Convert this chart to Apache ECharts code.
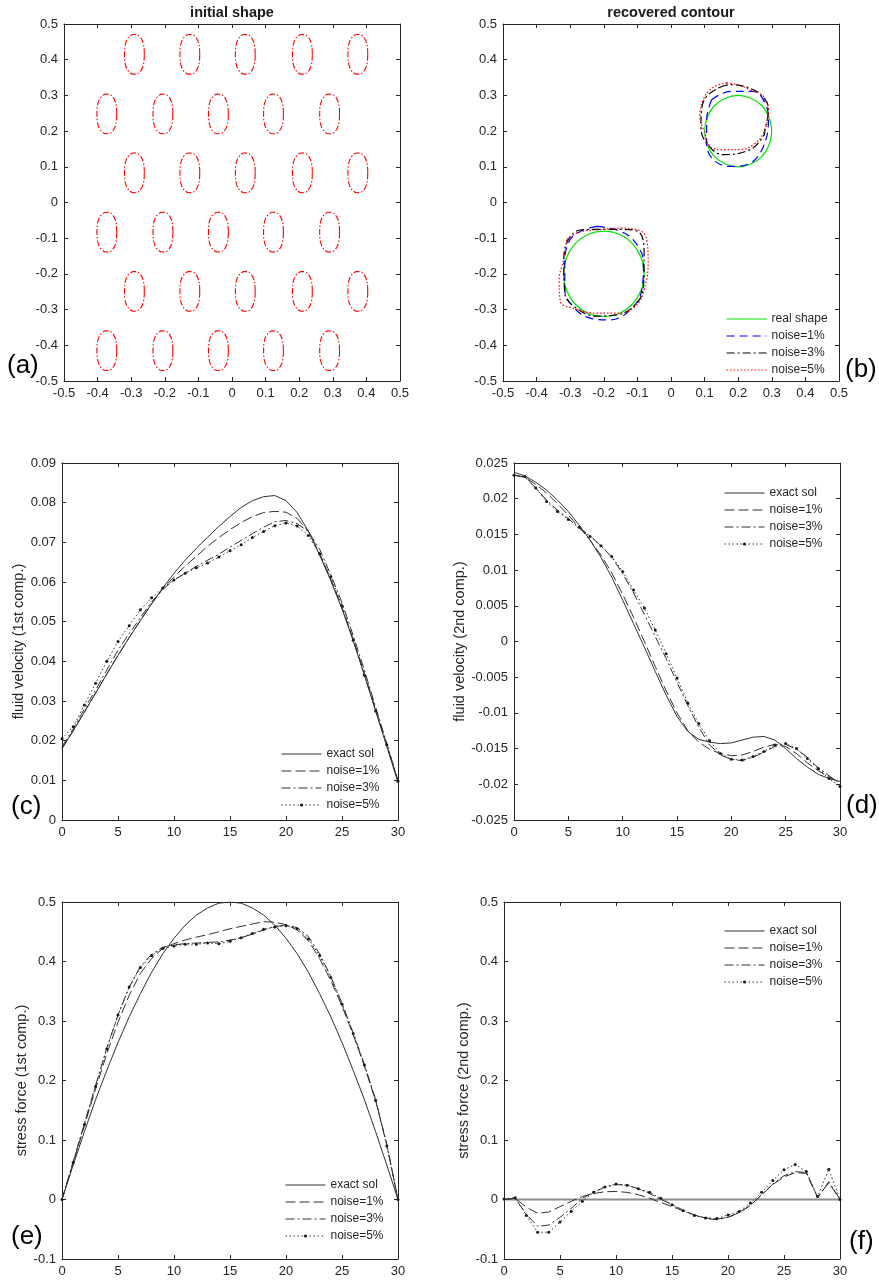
<!DOCTYPE html>
<html><head><meta charset="utf-8">
<script src="https://cdn.jsdelivr.net/npm/echarts@6/dist/echarts.min.js"></script>
<style>
html,body{margin:0;padding:0;background:#fff;width:879px;height:1282px;overflow:hidden;}
.p{position:absolute;left:0;top:0;width:879px;height:1282px;}
</style></head><body>
<div id="pa" class="p"></div><div id="pb" class="p"></div><div id="pc" class="p"></div>
<div id="pd" class="p"></div><div id="pe" class="p"></div><div id="pf" class="p"></div>
<script>
// ================= DATA =================
// (a) initial shapes: row centres, column centres (alternating rows), common outline offsets
const aRowY = [0.415, 0.248, 0.083, -0.083, -0.249, -0.415];
const aColsOdd = [-0.29, -0.125, 0.04, 0.21, 0.375];
const aColsEven = [-0.372, -0.205, -0.04, 0.124, 0.291];
const aOutline = [[0.029,0],[0.028,0.02],[0.024,0.036],[0.017,0.048],[0.007,0.055],[-0.004,0.0555],[-0.015,0.05],[-0.024,0.038],[-0.029,0.02],[-0.030,0],[-0.029,-0.02],[-0.024,-0.038],[-0.015,-0.05],[-0.004,-0.0555],[0.007,-0.055],[0.017,-0.048],[0.024,-0.036],[0.028,-0.02],[0.029,0]];

// (b) recovered contours
const bRealUpper = [[0.3,0.2],[0.292,0.238],[0.271,0.271],[0.238,0.292],[0.2,0.3],[0.162,0.292],[0.129,0.271],[0.108,0.238],[0.1,0.2],[0.108,0.162],[0.129,0.129],[0.162,0.108],[0.2,0.1],[0.238,0.108],[0.271,0.129],[0.292,0.162],[0.3,0.2]];
const bRealLower = [[-0.08,-0.2],[-0.089,-0.154],[-0.115,-0.115],[-0.154,-0.089],[-0.2,-0.08],[-0.246,-0.089],[-0.285,-0.115],[-0.311,-0.154],[-0.32,-0.2],[-0.311,-0.246],[-0.285,-0.285],[-0.246,-0.311],[-0.2,-0.32],[-0.154,-0.311],[-0.115,-0.285],[-0.089,-0.246],[-0.08,-0.2]];
const bN1Upper = [[0.121,0.288],[0.176,0.311],[0.245,0.311],[0.280,0.279],[0.290,0.232],[0.275,0.157],[0.235,0.110],[0.176,0.101],[0.126,0.120],[0.106,0.166],[0.106,0.232],[0.121,0.288]];
const bN1Lower = [[-0.221,-0.067],[-0.261,-0.077],[-0.301,-0.105],[-0.316,-0.170],[-0.316,-0.245],[-0.291,-0.292],[-0.241,-0.324],[-0.182,-0.329],[-0.122,-0.301],[-0.087,-0.245],[-0.082,-0.170],[-0.112,-0.105],[-0.162,-0.077],[-0.221,-0.067]];
const bN3Upper = [[0.146,0.323],[0.176,0.330],[0.245,0.316],[0.280,0.288],[0.290,0.260],[0.280,0.204],[0.275,0.185],[0.235,0.148],[0.156,0.134],[0.106,0.166],[0.089,0.213],[0.091,0.260],[0.106,0.297],[0.146,0.323]];
const bN3Lower = [[-0.212,-0.075],[-0.271,-0.077],[-0.306,-0.105],[-0.319,-0.161],[-0.316,-0.254],[-0.281,-0.296],[-0.221,-0.318],[-0.162,-0.315],[-0.107,-0.287],[-0.082,-0.236],[-0.080,-0.151],[-0.092,-0.086],[-0.152,-0.075],[-0.212,-0.075]];
const bN5Upper = [[0.166,0.335],[0.126,0.323],[0.096,0.288],[0.086,0.241],[0.101,0.194],[0.116,0.157],[0.156,0.148],[0.206,0.148],[0.245,0.162],[0.275,0.194],[0.290,0.260],[0.275,0.297],[0.235,0.316],[0.196,0.330],[0.166,0.335]];
const bN5Lower = [[-0.311,-0.105],[-0.320,-0.161],[-0.333,-0.217],[-0.329,-0.278],[-0.291,-0.296],[-0.221,-0.310],[-0.152,-0.310],[-0.102,-0.287],[-0.080,-0.245],[-0.068,-0.170],[-0.072,-0.105],[-0.097,-0.077],[-0.152,-0.072],[-0.221,-0.077],[-0.271,-0.082],[-0.311,-0.105]];

// (c)-(f) sample positions
const steps = [0,1,2,3,4,5,6,7,8,9,10,11,12,13,14,15,16,17,18,19,20,21,22,23,24,25,26,27,28,29,30];
const seriesNames = ['exact sol','noise=1%','noise=3%','noise=5%'];

// (c) fluid velocity, 1st comp.
const cExact = [0.018,0.0225,0.0272,0.032,0.0368,0.0415,0.046,0.0503,0.0545,0.0585,0.0622,0.0655,0.0685,0.0713,0.074,0.0765,0.0788,0.0805,0.0815,0.0818,0.0805,0.0775,0.0728,0.0668,0.0603,0.0532,0.0452,0.0365,0.0275,0.0185,0.0095];
const cN1 = [0.018,0.0225,0.0272,0.032,0.0368,0.0415,0.046,0.0503,0.0545,0.0583,0.0613,0.064,0.0665,0.069,0.0712,0.0732,0.075,0.0765,0.0775,0.0778,0.0776,0.076,0.0728,0.0672,0.0607,0.0536,0.0456,0.037,0.028,0.019,0.0098];
const cN3 = [0.0185,0.023,0.028,0.0328,0.0378,0.0428,0.047,0.051,0.055,0.0582,0.0605,0.0622,0.064,0.0655,0.067,0.0688,0.0705,0.0722,0.0738,0.0752,0.0755,0.0747,0.0727,0.0683,0.0618,0.0548,0.0465,0.0378,0.0285,0.0193,0.01];
const cN5 = [0.0205,0.0235,0.029,0.0345,0.040,0.045,0.049,0.053,0.056,0.0585,0.0605,0.0622,0.0636,0.0648,0.0663,0.0679,0.0694,0.0712,0.0727,0.0742,0.0749,0.0741,0.0717,0.0671,0.0613,0.054,0.0453,0.0365,0.0275,0.019,0.0098];

// (d) fluid velocity, 2nd comp.
const dExact = [0.0237,0.0232,0.0223,0.0212,0.0198,0.0182,0.0163,0.0142,0.0118,0.009,0.0058,0.0025,-0.0008,-0.0042,-0.0075,-0.0105,-0.0126,-0.0137,-0.0141,-0.0143,-0.0142,-0.0138,-0.0134,-0.0133,-0.0138,-0.015,-0.0164,-0.0176,-0.0186,-0.0192,-0.0196];
const dN1 = [0.0233,0.023,0.022,0.0208,0.0193,0.0177,0.016,0.0142,0.0121,0.0096,0.0066,0.0034,0.0,-0.0035,-0.0069,-0.01,-0.0125,-0.0141,-0.0151,-0.0157,-0.016,-0.0159,-0.0154,-0.0148,-0.0144,-0.0147,-0.0157,-0.017,-0.0181,-0.019,-0.0197];
const dN3 = [0.0233,0.023,0.0215,0.0198,0.0184,0.0172,0.0159,0.0148,0.0134,0.0118,0.0095,0.0068,0.0038,0.0007,-0.0024,-0.0057,-0.009,-0.012,-0.0145,-0.0159,-0.0165,-0.0167,-0.0162,-0.0155,-0.0147,-0.0144,-0.0151,-0.0162,-0.0177,-0.0188,-0.0199];
const dN5 = [0.0233,0.0231,0.0215,0.0196,0.0182,0.0171,0.016,0.0147,0.0134,0.0119,0.0098,0.0072,0.0047,0.0016,-0.0017,-0.0051,-0.0086,-0.0115,-0.0139,-0.0157,-0.0165,-0.0166,-0.0161,-0.0154,-0.0145,-0.0143,-0.015,-0.0164,-0.0178,-0.0192,-0.0203];

// (e) stress force, 1st comp.
const eExact = [0,0.058,0.114,0.168,0.217,0.264,0.307,0.346,0.382,0.413,0.439,0.461,0.478,0.49,0.498,0.5,0.498,0.49,0.478,0.461,0.439,0.413,0.382,0.346,0.307,0.264,0.217,0.168,0.114,0.058,0];
const eN1 = [0,0.062,0.124,0.186,0.245,0.298,0.343,0.38,0.405,0.422,0.43,0.436,0.441,0.445,0.45,0.455,0.459,0.463,0.467,0.466,0.462,0.453,0.435,0.405,0.368,0.325,0.277,0.224,0.166,0.092,0];
const eN3 = [0,0.064,0.128,0.192,0.255,0.31,0.357,0.392,0.412,0.424,0.428,0.43,0.431,0.432,0.433,0.436,0.44,0.446,0.453,0.459,0.461,0.457,0.442,0.413,0.375,0.33,0.28,0.227,0.168,0.093,0];
const eN5 = [0,0.062,0.126,0.19,0.253,0.31,0.357,0.39,0.41,0.422,0.426,0.429,0.429,0.431,0.43,0.434,0.44,0.447,0.454,0.458,0.46,0.455,0.438,0.41,0.373,0.328,0.279,0.226,0.167,0.09,0];

// (f) stress force, 2nd comp.
const fExact = [0,0,0,0,0,0,0,0,0,0,0,0,0,0,0,0,0,0,0,0,0,0,0,0,0,0,0,0,0,0,0];
const fN1 = [0,0.002,-0.013,-0.023,-0.021,-0.012,-0.003,0.005,0.01,0.013,0.0135,0.012,0.008,0.002,-0.005,-0.012,-0.019,-0.026,-0.031,-0.033,-0.03,-0.022,-0.01,0.008,0.025,0.038,0.045,0.044,0.004,0.028,0];
const fN3 = [0,0.002,-0.025,-0.045,-0.043,-0.03,-0.015,0.002,0.012,0.021,0.025,0.024,0.018,0.01,0.0,-0.008,-0.018,-0.026,-0.032,-0.034,-0.03,-0.022,-0.01,0.008,0.026,0.04,0.047,0.045,0.003,0.03,0];
const fN5 = [0.001,0.003,-0.027,-0.055,-0.055,-0.038,-0.02,-0.003,0.012,0.021,0.026,0.024,0.018,0.012,0.002,-0.009,-0.019,-0.027,-0.031,-0.032,-0.026,-0.02,-0.006,0.012,0.032,0.05,0.059,0.047,0.005,0.051,0];

// ================= STYLE / BUILD =================
const FONT = '"Liberation Sans", Arial, Helvetica, sans-serif';
const AX = '#262626';
const TXT = '#262626';
const LC = '#303030';

function axis(min, max, interval, pos, show, extra) {
  return Object.assign({
    type: 'value', min: min, max: max, interval: interval, position: pos,
    axisLine: {show: true, onZero: false, lineStyle: {color: AX, width: 1}},
    axisTick: {show: true, inside: true, length: 4, lineStyle: {color: AX, width: 1}},
    axisLabel: {show: show, color: TXT, fontSize: 13, fontFamily: FONT, margin: 6},
    splitLine: {show: false}
  }, extra || {});
}
function frame(grid, xr, yr, yName, yGap) {
  const nameOpt = yName ? {name: yName, nameLocation: 'middle', nameGap: yGap, nameRotate: 90,
    nameTextStyle: {color: TXT, fontSize: 14.5, fontFamily: FONT}} : {};
  return {
    grid: grid,
    xAxis: [axis(xr[0], xr[1], xr[2], 'bottom', true), axis(xr[0], xr[1], xr[2], 'top', false)],
    yAxis: [axis(yr[0], yr[1], yr[2], 'left', true, nameOpt), axis(yr[0], yr[1], yr[2], 'right', false)]
  };
}
function letter(txt, x, y) {
  return {type: 'text', left: x, top: y, style: {text: txt, fontSize: 26, fontFamily: FONT, fill: '#000'}};
}
function titleText(txt, cx, y) {
  return {type: 'text', x: cx, y: y, style: {text: txt, fontSize: 14.5, fontWeight: 'bold', fontFamily: FONT, fill: '#1a1a1a', textAlign: 'center', textVerticalAlign: 'middle'}};
}
function legend(left, top, names, symbolOn, lineW, firstLine) {
  return {orient: 'vertical', left: left, top: top, padding: 0, itemWidth: 40, itemHeight: 4, itemGap: 5,
    selectedMode: false,
    lineStyle: {width: lineW},
    textStyle: {fontSize: 12, color: TXT, fontFamily: FONT, lineHeight: 12},
    data: names.map((n, i) => {
      const it = {name: n, itemStyle: {opacity: symbolOn[i] ? 1 : 0}};
      if (i === 0 && firstLine) it.lineStyle = firstLine;
      return it;
    })};
}
function pair(arr) { return steps.map((s, i) => [s, arr[i]]); }
function curveSeries(arrs, exactStyle) {
  const types = ['solid', [10, 4], [9, 3, 2, 3], [1.5, 2.5]];
  return arrs.map((arr, i) => ({
    type: 'line', name: seriesNames[i], data: pair(arr), silent: true,
    symbol: 'circle', symbolSize: 3, showSymbol: i === 3,
    itemStyle: {color: '#1a1a1a'},
    lineStyle: Object.assign({color: LC, width: 1, type: types[i]}, (i === 0 && exactStyle) ? exactStyle : {}),
    z: i === 0 ? 2 : 3
  }));
}

// ---- (a) ----
const aSeries = [];
aRowY.forEach((cy, r) => {
  const cols = (r % 2 === 0) ? aColsOdd : aColsEven;
  cols.forEach(cx => {
    aSeries.push({type: 'line', silent: true, symbol: 'none', smooth: 0.35,
      data: aOutline.map(p => [cx + p[0], cy + p[1]]),
      lineStyle: {color: '#ff0000', width: 1.1, type: [6, 2, 1.5, 2]}});
  });
});
const optA = Object.assign(frame({left: 64, top: 24, width: 336, height: 357}, [-0.5, 0.5, 0.1], [-0.5, 0.5, 0.1]), {
  animation: false, series: aSeries,
  graphic: [titleText('initial shape', 232, 13), letter('(a)', 7, 353)]
});

// ---- (b) ----
const bStyles = [
  {name: 'real shape', color: '#00e000', type: 'solid', d: [bRealUpper, bRealLower]},
  {name: 'noise=1%', color: '#0000ff', type: [8, 5], d: [bN1Upper, bN1Lower]},
  {name: 'noise=3%', color: '#000000', type: [8, 3, 2, 3], d: [bN3Upper, bN3Lower]},
  {name: 'noise=5%', color: '#ff0000', type: [1.5, 2], d: [bN5Upper, bN5Lower]}
];
const bSeries = [];
bStyles.forEach(s => s.d.forEach(pts => bSeries.push({
  type: 'line', name: s.name, data: pts, silent: true, symbol: 'circle', showSymbol: false, smooth: 0.4,
  itemStyle: {color: s.color}, lineStyle: {color: s.color, width: 1.2, type: s.type}
})));
const optB = Object.assign(frame({left: 503, top: 24, width: 336, height: 357}, [-0.5, 0.5, 0.1], [-0.5, 0.5, 0.1]), {
  animation: false, series: bSeries,
  legend: legend(726, 313, bStyles.map(s => s.name), [0, 0, 0, 0], 1.2),
  graphic: [titleText('recovered contour', 671, 13), letter('(b)', 845, 357)]
});

// ---- (c)-(f) ----
const optC = Object.assign(frame({left: 62, top: 463, width: 336, height: 357}, [0, 30, 5], [0, 0.09, 0.01], 'fluid velocity (1st comp.)', 35), {
  animation: false, series: curveSeries([cExact, cN1, cN3, cN5]),
  legend: legend(281, 748, seriesNames, [0, 0, 0, 1], 1),
  graphic: [letter('(c)', 11, 794)]
});
const optD = Object.assign(frame({left: 514, top: 463, width: 326, height: 357}, [0, 30, 5], [-0.025, 0.025, 0.005], 'fluid velocity (2nd comp.)', 45), {
  animation: false, series: curveSeries([dExact, dN1, dN3, dN5]),
  legend: legend(724, 487, seriesNames, [0, 0, 0, 1], 1),
  graphic: [letter('(d)', 846, 793)]
});
const optE = Object.assign(frame({left: 62, top: 902, width: 336, height: 357}, [0, 30, 5], [-0.1, 0.5, 0.1], 'stress force (1st comp.)', 31), {
  animation: false, series: curveSeries([eExact, eN1, eN3, eN5]),
  legend: legend(285, 1179, seriesNames, [0, 0, 0, 1], 1),
  graphic: [letter('(e)', 11, 1224)]
});
const optF = Object.assign(frame({left: 504, top: 902, width: 336, height: 357}, [0, 30, 5], [-0.1, 0.5, 0.1], 'stress force (2nd comp.)', 32), {
  animation: false, series: curveSeries([fExact, fN1, fN3, fN5], {color: '#8c8c8c', width: 2}),
  legend: legend(724, 925, seriesNames, [0, 0, 0, 1], 1, {color: LC, width: 1}),
  graphic: [letter('(f)', 849, 1229)]
});

[['pa', optA], ['pb', optB], ['pc', optC], ['pd', optD], ['pe', optE], ['pf', optF]].forEach(([id, opt]) => {
  const ch = echarts.init(document.getElementById(id), null, {renderer: 'canvas'});
  ch.setOption(opt);
});
</script>
</body></html>
